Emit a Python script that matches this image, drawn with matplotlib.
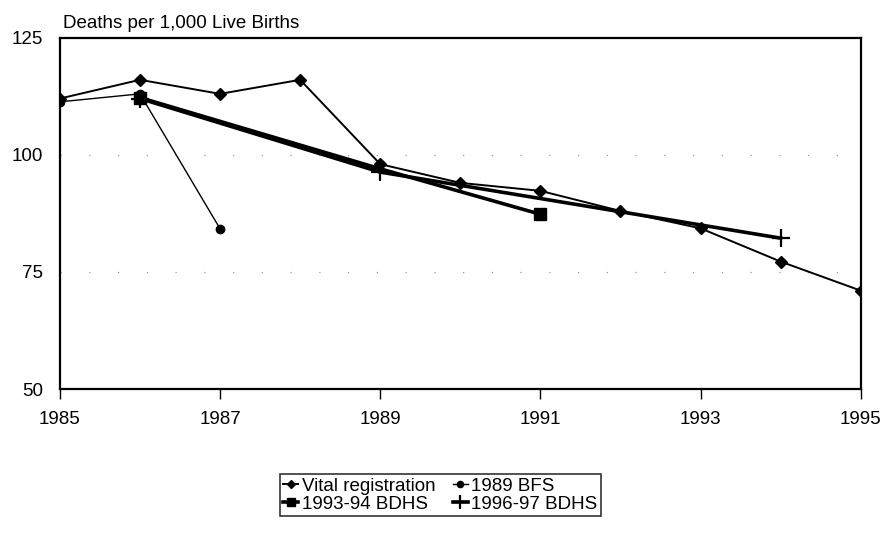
import matplotlib.pyplot as plt

plt.rcParams['font.family'] = ['Liberation Sans', 'DejaVu Sans']

years_vr = [1985, 1986, 1987, 1988, 1989, 1990, 1991, 1992, 1993, 1994, 1995]
vital_registration = [112, 116, 113, 116, 98, 94, 92.3, 88, 84.3, 77.2, 71]

years_bfs = [1985, 1986, 1987]
bfs_1989 = [111.3, 113, 84.2]

years_bdhs94 = [1986, 1989, 1991]
bdhs_1993_94 = [112.2, 97, 87.3]

years_bdhs97 = [1986, 1989, 1994]
bdhs_1996_97 = [112, 96.3, 82.2]

x_ticks = [1985, 1987, 1989, 1991, 1993, 1995]
y_ticks = [50, 75, 100, 125]

fig = plt.figure(figsize=(8.81, 5.34), dpi=100)
ax = fig.add_axes([0.068, 0.2715, 0.909, 0.658])

# faint dotted reference lines
for v in [75, 100]:
    ax.axhline(v, color='#999999', lw=0.9, ls=(0, (1, 22)), zorder=0)

ax.plot(years_bdhs97, bdhs_1996_97, color='black', lw=2.6, marker='+',
        ms=13, mew=1.6, label='1996-97 BDHS', zorder=3)
ax.plot(years_bdhs94, bdhs_1993_94, color='black', lw=2.6, marker='s',
        ms=8, markevery=[0, 2], label='1993-94 BDHS', zorder=3)
ax.plot(years_bfs, bfs_1989, color='black', lw=1.0, marker='o',
        ms=6, label='1989 BFS', zorder=4)
ax.plot(years_vr, vital_registration, color='black', lw=1.4, marker='D',
        ms=6, label='Vital registration', zorder=4)

ax.set_xlim(1985, 1995)
ax.set_ylim(50, 125)
ax.set_xticks(x_ticks)
ax.set_yticks(y_ticks)
ax.tick_params(axis='both', labelsize=13.5, width=1, color='black')
ax.tick_params(axis='x', length=7, pad=9)
ax.tick_params(axis='y', length=0, pad=12)
for s in ax.spines.values():
    s.set_linewidth(1.6)
    s.set_color('black')

fig.text(0.071, 1 - 28 / 534, 'Deaths per 1,000 Live Births', fontsize=13.5,
         ha='left', va='baseline')

handles, labels = ax.get_legend_handles_labels()
# column-major fill: row 1 = VR, BFS; row 2 = 93-94, 96-97
order = [3, 1, 2, 0]
leg = fig.legend([handles[i] for i in order], [labels[i] for i in order],
                 loc='center', bbox_to_anchor=(0.50, 0.073), ncol=2,
                 fontsize=13.5, frameon=True, fancybox=False,
                 edgecolor='black', handlelength=0.8, handletextpad=0.2,
                 columnspacing=0.9, borderpad=0.2, labelspacing=0.05,
                 markerscale=0.75)
leg.get_frame().set_linewidth(1.2)

fig.savefig('out.png', dpi=100)
